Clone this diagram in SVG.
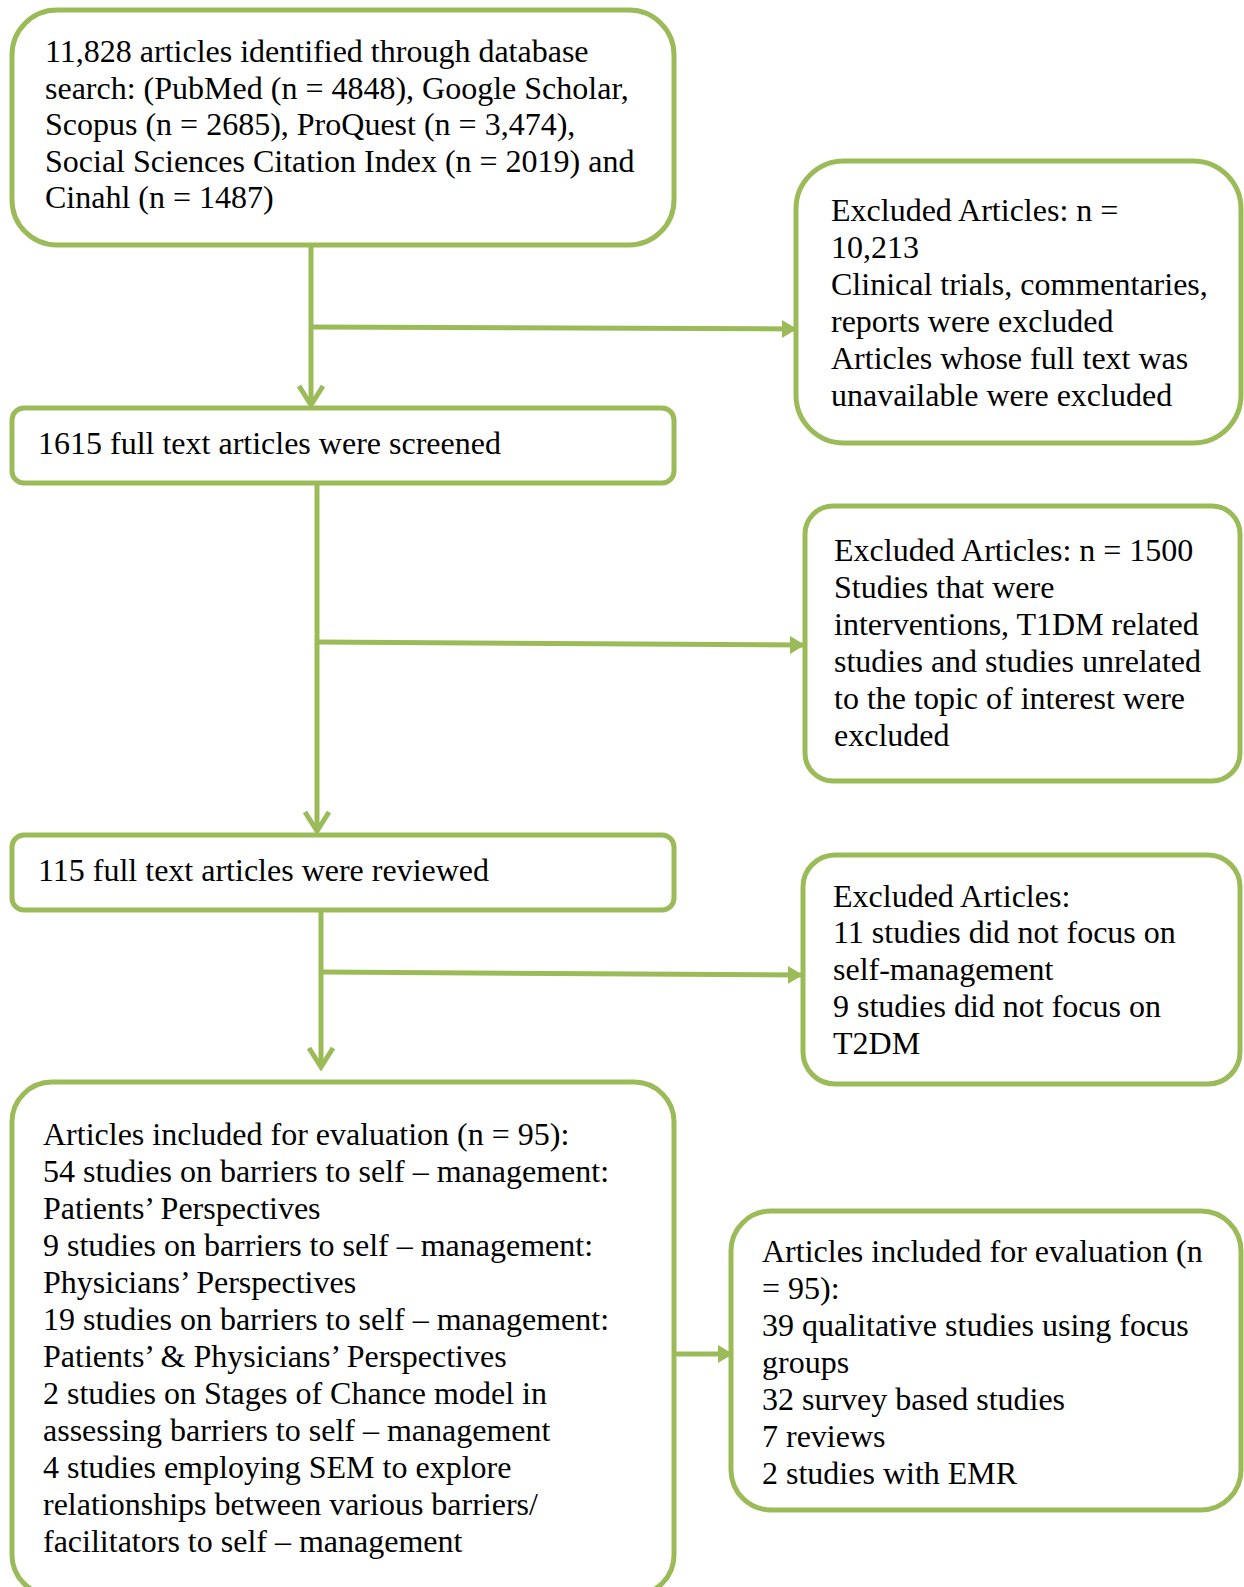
<svg xmlns="http://www.w3.org/2000/svg" width="1244" height="1587" viewBox="0 0 1244 1587">
<defs>
<style>
.box{fill:#ffffff;stroke:#9BBB59;stroke-width:5}
.conn{fill:none;stroke:#9BBB59;stroke-width:5}
text{font-family:"Liberation Serif","Times New Roman",serif;font-size:32px;fill:#000000}
</style>
<marker id="chev" viewBox="-4 -16 28 32" refX="20" refY="0" markerWidth="28" markerHeight="32" markerUnits="userSpaceOnUse" orient="auto">
<path d="M1,-12 L20,0 L1,12" fill="none" stroke="#9BBB59" stroke-width="5" stroke-linejoin="miter"/>
</marker>
<marker id="tri" viewBox="0 -10 16 20" refX="15" refY="0" markerWidth="16" markerHeight="20" markerUnits="userSpaceOnUse" orient="auto">
<path d="M0,-9 L15,0 L0,9 Z" fill="#9BBB59"/>
</marker>
</defs>
<rect width="1244" height="1587" fill="#ffffff"/>

<g id="connectors">
<line class="conn" x1="311" y1="245" x2="311" y2="405" marker-end="url(#chev)"/>
<line class="conn" x1="311" y1="327" x2="797" y2="329" marker-end="url(#tri)"/>
<line class="conn" x1="317" y1="483" x2="317" y2="831" marker-end="url(#chev)"/>
<line class="conn" x1="317" y1="642" x2="805" y2="645" marker-end="url(#tri)"/>
<line class="conn" x1="321" y1="910" x2="321" y2="1067" marker-end="url(#chev)"/>
<line class="conn" x1="321" y1="972" x2="803" y2="975" marker-end="url(#tri)"/>
<line class="conn" x1="676" y1="1354" x2="733" y2="1354" marker-end="url(#tri)"/>
</g>

<g id="identified">
<rect class="box" x="12" y="10" width="662" height="235" rx="45" ry="45"/>
<text x="45" y="62">11,828 articles identified through database</text>
<text x="45" y="99">search: (PubMed (n = 4848), Google Scholar,</text>
<text x="45" y="135">Scopus (n = 2685), ProQuest (n = 3,474),</text>
<text x="45" y="172">Social Sciences Citation Index (n = 2019) and</text>
<text x="45" y="208">Cinahl (n = 1487)</text>
</g>

<g id="excluded1">
<rect class="box" x="796" y="161" width="445" height="282" rx="48" ry="48"/>
<text x="831" y="221">Excluded Articles: n =</text>
<text x="831" y="258">10,213</text>
<text x="831" y="295">Clinical trials, commentaries,</text>
<text x="831" y="332">reports were excluded</text>
<text x="831" y="369">Articles whose full text was</text>
<text x="831" y="406">unavailable were excluded</text>
</g>

<g id="screened">
<rect class="box" x="12" y="408" width="662" height="75" rx="12" ry="12"/>
<text x="38" y="454">1615 full text articles were screened</text>
</g>

<g id="excluded2">
<rect class="box" x="805" y="506" width="435" height="275" rx="28" ry="28"/>
<text x="834" y="561">Excluded Articles: n = 1500</text>
<text x="834" y="598">Studies that were</text>
<text x="834" y="635">interventions, T1DM related</text>
<text x="834" y="672">studies and studies unrelated</text>
<text x="834" y="709">to the topic of interest were</text>
<text x="834" y="746">excluded</text>
</g>

<g id="reviewed">
<rect class="box" x="12" y="835" width="662" height="75" rx="12" ry="12"/>
<text x="38" y="881">115 full text articles were reviewed</text>
</g>

<g id="excluded3">
<rect class="box" x="803" y="855" width="437" height="229" rx="32" ry="32"/>
<text x="833" y="907">Excluded Articles:</text>
<text x="833" y="943">11 studies did not focus on</text>
<text x="833" y="980">self-management</text>
<text x="833" y="1017">9 studies did not focus on</text>
<text x="833" y="1054">T2DM</text>
</g>

<g id="included">
<rect class="box" x="12" y="1082" width="662" height="513" rx="40" ry="40"/>
<text x="43" y="1145">Articles included for evaluation (n = 95):</text>
<text x="43" y="1182">54 studies on barriers to self – management:</text>
<text x="43" y="1219">Patients’ Perspectives</text>
<text x="43" y="1256">9 studies on barriers to self – management:</text>
<text x="43" y="1293">Physicians’ Perspectives</text>
<text x="43" y="1330">19 studies on barriers to self – management:</text>
<text x="43" y="1367">Patients’ &amp; Physicians’ Perspectives</text>
<text x="43" y="1404">2 studies on Stages of Chance model in</text>
<text x="43" y="1441">assessing barriers to self – management</text>
<text x="43" y="1478">4 studies employing SEM to explore</text>
<text x="43" y="1515">relationships between various barriers/</text>
<text x="43" y="1552">facilitators to self – management</text>
</g>

<g id="included-types">
<rect class="box" x="731" y="1211" width="510" height="299" rx="40" ry="40"/>
<text x="762" y="1262">Articles included for evaluation (n</text>
<text x="762" y="1299">= 95):</text>
<text x="762" y="1336">39 qualitative studies using focus</text>
<text x="762" y="1373">groups</text>
<text x="762" y="1410">32 survey based studies</text>
<text x="762" y="1447">7 reviews</text>
<text x="762" y="1484">2 studies with EMR</text>
</g>
</svg>
